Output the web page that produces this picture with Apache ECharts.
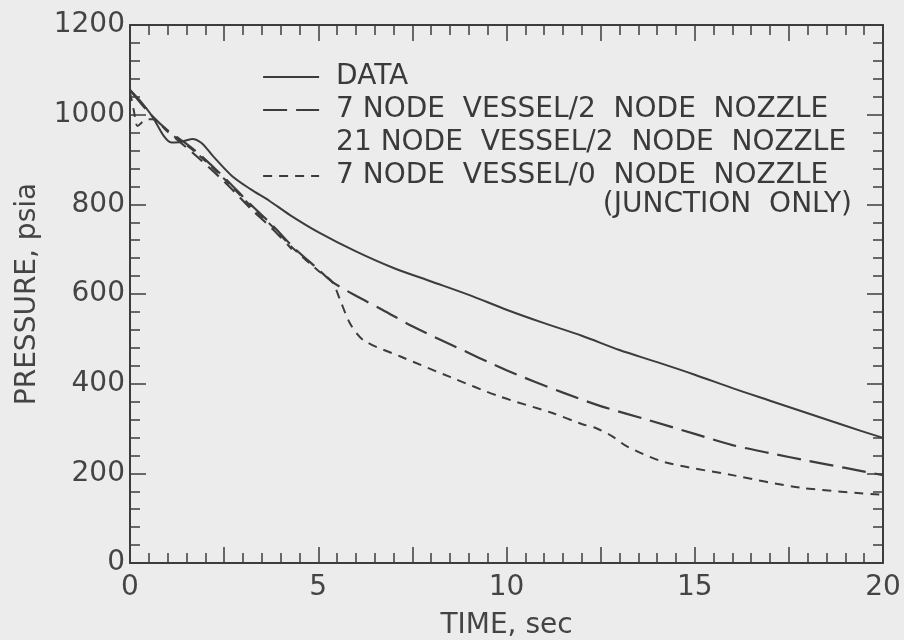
<!DOCTYPE html>
<html>
<head>
<meta charset="utf-8">
<script src="https://cdn.jsdelivr.net/npm/echarts@6/dist/echarts.min.js"></script>
<style>
  html, body { margin: 0; padding: 0; background: #ececec; }
  #chart { width: 904px; height: 640px; }
</style>
</head>
<body>
<div id="chart"></div>
<script>
// measured data (solid line)
const dataTime = [0, 0.3, 0.6, 0.9, 1.1, 1.35, 1.65, 1.9, 2.2, 2.7, 3.2, 3.7, 4.25, 5, 6, 7, 8, 9, 10, 11, 12, 13, 14, 15, 16, 17, 18, 19, 20]
const dataPressure = [1055, 1028, 995, 952, 938, 939, 946, 937, 908, 864, 834, 808, 776, 738, 695, 658, 628, 598, 565, 535, 507, 475, 448, 420, 390, 362, 334, 306, 279]

// 7 node vessel / 2 node nozzle
const node7Time = [0, 0.5, 1.0, 1.5, 1.8, 2.5, 3.2, 3.8, 4.33, 5.0, 5.37, 6.0, 6.7, 7.5, 8.5, 10, 11.5, 12.5, 13.8, 15, 16, 17, 18, 19, 20]
const node7Pressure = [1055, 1005, 965, 935, 915, 860, 800, 752, 705, 655, 627, 596, 565, 528, 488, 430, 380, 350, 318, 288, 263, 245, 228, 212, 196]

// 21 node vessel / 2 node nozzle (only visible apart early on)
const node21Time = [1.2, 1.8, 2.5, 3.2, 3.8, 4.3]
const node21Pressure = [948, 905, 851, 791, 744, 700]

// 7 node vessel / 0 node nozzle (junction only)
const junctionTime = [0, 0.1, 0.2, 0.4, 0.6, 1.0, 1.5, 1.8, 2.5, 3.2, 3.8, 4.33, 5.0, 5.37, 5.58, 5.84, 6.2, 7.2, 8.5, 9.8, 11.2, 12.0, 12.4, 12.8, 13.2, 14.2, 16, 17.8, 20]
const junctionPressure = [1050, 1010, 975, 988, 990, 962, 932, 912, 857, 797, 749, 702, 652, 627, 587, 535, 497, 460, 415, 372, 335, 310, 300, 283, 260, 225, 196, 168, 152]

const xTicks = [0, 5, 10, 15, 20]
const yTicks = [0, 200, 400, 600, 800, 1000, 1200]

const ink = '#3c3c3c'
const font = 'DejaVu Sans'

function pairs (xs, ys) {
  return xs.map((x, i) => [x, ys[i]])
}

function xAxisOf (pos) {
  return {
    type: 'value',
    position: pos,
    min: xTicks[0],
    max: xTicks[xTicks.length - 1],
    interval: 2.5,
    axisLine: { show: true, onZero: false, lineStyle: { color: ink, width: 2 } },
    axisTick: { show: true, inside: true, length: 16, lineStyle: { color: ink, width: 1.5 } },
    minorTick: { show: true, splitNumber: 5, length: 10, lineStyle: { color: ink, width: 1.5 } },
    splitLine: { show: false },
    axisLabel: {
      show: pos === 'bottom',
      margin: 11,
      color: '#444',
      fontSize: 28,
      fontFamily: font,
      formatter: v => xTicks.indexOf(v) >= 0 ? String(v) : ''
    }
  }
}

function yAxisOf (pos) {
  return {
    type: 'value',
    position: pos,
    min: yTicks[0],
    max: yTicks[yTicks.length - 1],
    interval: 200,
    axisLine: { show: true, onZero: false, lineStyle: { color: ink, width: 2 } },
    axisTick: { show: true, inside: true, length: 16, lineStyle: { color: ink, width: 1.5 } },
    minorTick: { show: true, splitNumber: 5, length: 10, lineStyle: { color: ink, width: 1.5 } },
    splitLine: { show: false },
    axisLabel: {
      show: pos === 'left',
      margin: 5,
      color: '#444',
      fontSize: 28,
      fontFamily: font,
      formatter: v => String(v)
    }
  }
}

let chart = echarts.init(document.getElementById('chart'))
let bottomX = xAxisOf('bottom')
bottomX.name = 'TIME, sec'
bottomX.nameLocation = 'middle'
bottomX.nameGap = 49
bottomX.nameTextStyle = { color: '#444', fontSize: 28, fontFamily: font }
let leftY = yAxisOf('left')
leftY.name = 'PRESSURE, psia'
leftY.nameLocation = 'middle'
leftY.nameGap = 88
leftY.nameTextStyle = { color: '#444', fontSize: 28, fontFamily: font }

const longDash = [24, 9]
const shortDash = [9, 7]

let options = {
  backgroundColor: '#ececec',
  animation: false,
  color: [ink, ink, ink, ink],
  grid: { left: 130, right: 21, top: 25, bottom: 77, outerBoundsMode: 'none', containLabel: false },
  xAxis: [bottomX, xAxisOf('top')],
  yAxis: [leftY, yAxisOf('right')],
  legend: {
    orient: 'vertical',
    left: 257,
    top: 58,
    itemWidth: 56,
    itemHeight: 14,
    itemGap: 5,
    selectedMode: false,
    itemStyle: { opacity: 0 },
    textStyle: { color: '#3a3a3a', fontSize: 28, fontFamily: font, lineHeight: 28, padding: [0, 0, 0, 12] },
    data: [
      { name: 'DATA', lineStyle: { color: ink, width: 2 } },
      { name: '7 NODE  VESSEL/2  NODE  NOZZLE', lineStyle: { color: ink, width: 2.2, type: longDash } },
      { name: '21 NODE  VESSEL/2  NODE  NOZZLE', lineStyle: { opacity: 0 } },
      { name: '7 NODE  VESSEL/0  NODE  NOZZLE', lineStyle: { color: ink, width: 2, type: shortDash } }
    ]
  },
  graphic: [{
    type: 'text',
    right: 52,
    top: 191,
    style: { text: '(JUNCTION  ONLY)', fill: '#3a3a3a', fontSize: 28, fontFamily: font }
  }],
  series: [
    {
      name: 'DATA',
      type: 'line',
      data: pairs(dataTime, dataPressure),
      symbol: 'none',
      smooth: 0.3,
      lineStyle: { color: ink, width: 2 }
    },
    {
      name: '7 NODE  VESSEL/2  NODE  NOZZLE',
      type: 'line',
      data: pairs(node7Time, node7Pressure),
      symbol: 'none',
      smooth: 0.3,
      lineStyle: { color: ink, width: 2.2, type: longDash }
    },
    {
      name: '21 NODE  VESSEL/2  NODE  NOZZLE',
      type: 'line',
      data: pairs(node21Time, node21Pressure),
      symbol: 'none',
      smooth: 0.3,
      lineStyle: { color: ink, width: 2.2, type: [14, 8] }
    },
    {
      name: '7 NODE  VESSEL/0  NODE  NOZZLE',
      type: 'line',
      data: pairs(junctionTime, junctionPressure),
      symbol: 'none',
      smooth: 0.3,
      lineStyle: { color: ink, width: 2, type: shortDash }
    }
  ]
}
chart.setOption(options)
</script>
</body>
</html>
